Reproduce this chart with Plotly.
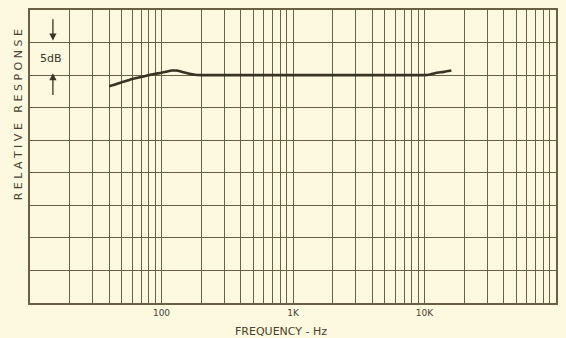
import plotly.graph_objects as go

# Frequency response (Hz, dB relative)
freq_hz = [40, 45, 50, 60, 70, 80, 90, 100, 110, 120, 130, 140, 160, 180, 200, 300, 500, 1000, 2000, 5000, 8000, 10000, 11000, 12000, 14000, 16000]
response_db = [-1.7, -1.4, -1.1, -0.6, -0.3, 0.0, 0.2, 0.35, 0.55, 0.7, 0.7, 0.55, 0.25, 0.05, 0.0, 0.0, 0.0, 0.0, 0.0, 0.0, 0.0, 0.0, 0.1, 0.3, 0.5, 0.7]

grid_freqs = [m * d for d in (10, 100, 1000, 10000) for m in range(1, 10)] + [100000]
tick_vals = [100, 1000, 10000]
tick_text = ["100", "1K", "10K"]

paper = "#fdf9e1"
ink = "#6b5f45"

fig = go.Figure()
fig.add_trace(go.Scatter(x=freq_hz, y=response_db, mode="lines",
                         line=dict(color="#3a3222", width=2.6, shape="spline", smoothing=0.6),
                         hoverinfo="skip", showlegend=False))

fig.update_layout(
    width=566, height=338,
    margin=dict(l=30, r=8, t=8, b=35),
    paper_bgcolor=paper, plot_bgcolor=paper,
    font=dict(family="DejaVu Sans", color="#4a4030", size=9),
    xaxis=dict(type="log", range=[1, 5],
               tickmode="array", tickvals=tick_vals, ticktext=tick_text,
               showgrid=False, ticks="", zeroline=False,
               showline=True, linecolor=ink, linewidth=1.5, mirror=True,
               tickfont=dict(size=9, color="#4a4030"),
               minor=dict(tickmode="array", tickvals=grid_freqs, showgrid=True,
                          gridcolor=ink, gridwidth=1.3, ticks="")),
    yaxis=dict(range=[-35, 10], dtick=5, tick0=0, showticklabels=False,
               showgrid=True, gridcolor=ink, gridwidth=1.3, ticks="", zeroline=False,
               showline=True, linecolor=ink, linewidth=1.5, mirror=True),
)

# axis titles
fig.add_annotation(text="FREQUENCY - Hz", xref="paper", yref="paper",
                   x=(282 - 30) / 528, y=-0.068, yanchor="top", showarrow=False,
                   font=dict(size=11, color="#4a4030"))
fig.add_annotation(text="R E L A T I V E   R E S P O N S E", xref="paper", yref="paper",
                   x=-12 / 528, y=(303 - 114) / 295, textangle=-90, showarrow=False,
                   font=dict(size=11, color="#4a4030"), xanchor="center", yanchor="middle")

# 5 dB scale marker (log-axis annotation coordinates are log10 values)
x_mark = 1 + 23 / 132
fig.add_annotation(text="5dB", x=1 + 21 / 132, y=2.6, xref="x", yref="y", showarrow=False,
                   bgcolor=paper, font=dict(size=11, color="#3a3222"))
fig.add_annotation(x=x_mark, y=5.3, ax=x_mark, ay=8.8, xref="x", yref="y", axref="x", ayref="y",
                   showarrow=True, arrowhead=2, arrowsize=1.1, arrowwidth=1.3, arrowcolor="#3a3222", text="")
fig.add_annotation(x=x_mark, y=0.3, ax=x_mark, ay=-3.3, xref="x", yref="y", axref="x", ayref="y",
                   showarrow=True, arrowhead=2, arrowsize=1.1, arrowwidth=1.3, arrowcolor="#3a3222", text="")

fig.write_html("out.html", config={"displayModeBar": False},
               post_script="document.body.style.margin='0';document.body.style.background='" + paper + "';")
